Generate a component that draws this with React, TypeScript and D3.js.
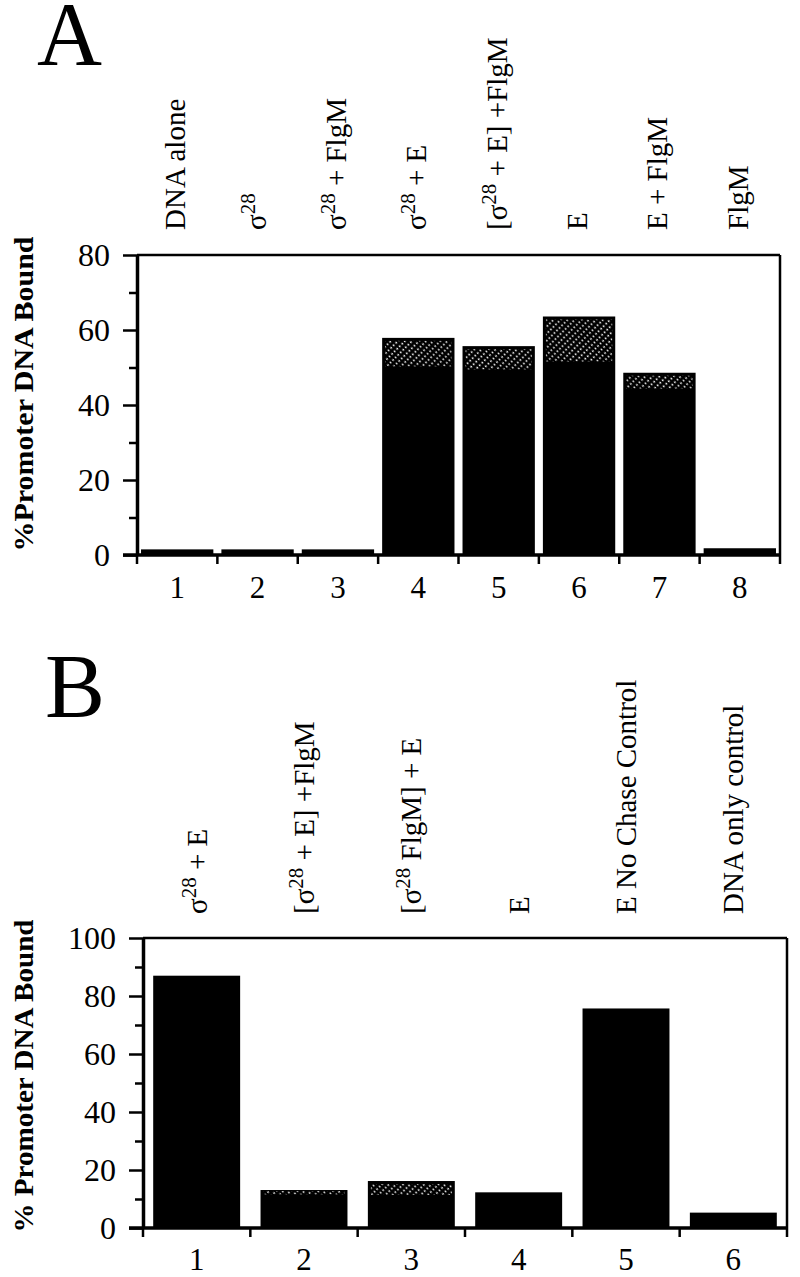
import React, { useRef, useEffect } from 'react';
import * as d3 from 'd3';

// panel A
const catsA = ['1', '2', '3', '4', '5', '6', '7', '8'];
const labelsA = ['DNA alone', 'σ^28', 'σ^28 + FlgM', 'σ^28 + E', '[σ^28 + E] +FlgM', 'E', 'E + FlgM', 'FlgM'];
const solidA = [1.5, 1.5, 1.5, 50.3, 49.5, 51.6, 44.4, 1.8];
const totalA = [1.5, 1.5, 1.5, 57.9, 55.7, 63.6, 48.6, 1.8];
const majorA = [0, 20, 40, 60, 80];
const minorA = [10, 30, 50, 70];

// panel B
const catsB = ['1', '2', '3', '4', '5', '6'];
const labelsB = ['σ^28 + E', '[σ^28 + E] +FlgM', '[σ^28 FlgM] + E', 'E', 'E No Chase Control', 'DNA only control'];
const solidB = [87, 11.6, 11.4, 12.3, 75.7, 5.3];
const totalB = [87, 13.1, 16.2, 12.3, 75.7, 5.3];
const majorB = [0, 20, 40, 60, 80, 100];
const minorB = [10, 30, 50, 70, 90];

const FONT = '"Liberation Serif", "Times New Roman", serif';

const panels = [
  {
    letter: 'A', letterX: 37, letterY: 65,
    cats: catsA, labels: labelsA, solid: solidA, total: totalA, major: majorA, minor: minorA,
    x0: 137, x1: 780, yTop: 255, yZero: 555, max: 80, pad: 0.1,
    labelBottom: 230, labelShift: 8, tickLabelY: 598,
    title: '%Promoter DNA Bound', titleX: 33, titleY: 394, titleLen: 315,
  },
  {
    letter: 'B', letterX: 45, letterY: 717,
    cats: catsB, labels: labelsB, solid: solidB, total: totalB, major: majorB, minor: minorB,
    x0: 143, x1: 787, yTop: 938, yZero: 1228, max: 100, pad: 0.19,
    labelBottom: 914, labelShift: 10, tickLabelY: 1270,
    title: '% Promoter DNA Bound', titleX: 33, titleY: 1076, titleLen: 313,
  },
];

// "σ^28 + E" -> [{t:'σ'},{t:'28',sup:true},{t:' + E'}]
const parseLabel = (s: string) =>
  s.split(/\^(\d+)/).map((t, i) => ({ t, sup: i % 2 === 1 })).filter(d => d.t !== '');

const App = () => {
  const svgRef = useRef<SVGSVGElement>(null);

  useEffect(() => {
    if (!svgRef.current) return;
    const svg = d3.select(svgRef.current);
    svg.selectAll('*').remove();

    const defs = svg.append('defs');
    const pat = defs.append('pattern')
      .attr('id', 'dots')
      .attr('patternUnits', 'userSpaceOnUse')
      .attr('width', 3.6)
      .attr('height', 5)
      .attr('patternTransform', 'rotate(-45)');
    pat.append('rect').attr('width', 3.6).attr('height', 5).attr('fill', '#000');
    pat.append('rect').attr('x', 1).attr('y', 1.7).attr('width', 1.6).attr('height', 1.6).attr('fill', '#fff');

    panels.forEach(p => {
      const g = svg.append('g');

      const x = d3.scaleBand<string>()
        .domain(p.cats)
        .range([p.x0, p.x1])
        .paddingInner(p.pad)
        .paddingOuter(p.pad / 2);

      const y = d3.scaleLinear().domain([0, p.max]).range([p.yZero, p.yTop]);

      // panel letter
      g.append('text')
        .attr('x', p.letterX)
        .attr('y', p.letterY)
        .attr('font-family', FONT)
        .attr('font-size', 90)
        .text(p.letter);

      // bars: solid part then dotted part
      p.cats.forEach((c, i) => {
        g.append('rect')
          .attr('x', x(c)!)
          .attr('width', x.bandwidth())
          .attr('y', y(p.total[i]))
          .attr('height', y(0) - y(p.total[i]))
          .attr('fill', '#000');
        if (p.total[i] > p.solid[i]) {
          const h = y(p.solid[i]) - y(p.total[i]);
          const inset = h < 8 ? 1 : 3;
          g.append('rect')
            .attr('x', x(c)! + 3)
            .attr('width', x.bandwidth() - 6)
            .attr('y', y(p.total[i]) + inset)
            .attr('height', Math.max(0, h - inset))
            .attr('fill', 'url(#dots)');
        }
      });

      // frame top + right
      g.append('line')
        .attr('x1', p.x0).attr('x2', p.x1)
        .attr('y1', y(p.max)).attr('y2', y(p.max))
        .attr('stroke', '#000').attr('stroke-width', 2.5);
      g.append('line')
        .attr('x1', p.x1).attr('x2', p.x1)
        .attr('y1', y(p.max)).attr('y2', y(0))
        .attr('stroke', '#000').attr('stroke-width', 2.5);

      // left axis
      const yAxis = g.append('g')
        .attr('transform', `translate(${p.x0},0)`)
        .call(d3.axisLeft(y).tickValues(p.major).tickSize(14).tickSizeOuter(0).tickPadding(13));
      yAxis.select('.domain').attr('stroke-width', 3.5);
      yAxis.selectAll('.tick line').attr('stroke-width', 2.5);
      yAxis.selectAll('.tick text')
        .attr('font-family', FONT)
        .attr('font-size', 32)
        .attr('fill', '#000');

      g.append('g')
        .attr('transform', `translate(${p.x0},0)`)
        .call(d3.axisLeft(y).tickValues(p.minor).tickSize(8).tickSizeOuter(0).tickFormat(() => ''))
        .call(s => s.select('.domain').remove())
        .selectAll('.tick line').attr('stroke-width', 2.5);

      // bottom axis
      g.append('line')
        .attr('x1', p.x0 - 14).attr('x2', p.x1)
        .attr('y1', y(0)).attr('y2', y(0))
        .attr('stroke', '#000').attr('stroke-width', 3.5);

      const bounds = d3.range(p.cats.length + 1).map(i => p.x0 + i * x.step());
      g.selectAll('.xt')
        .data(bounds)
        .join('line')
        .attr('x1', d => d).attr('x2', d => d)
        .attr('y1', y(0)).attr('y2', y(0) + 9)
        .attr('stroke', '#000').attr('stroke-width', 2.5);

      g.selectAll('.xl')
        .data(p.cats)
        .join('text')
        .attr('x', d => x(d)! + x.bandwidth() / 2)
        .attr('y', p.tickLabelY)
        .attr('text-anchor', 'middle')
        .attr('font-family', FONT)
        .attr('font-size', 31)
        .text(d => d);

      // rotated condition labels
      p.cats.forEach((c, i) => {
        const cx = x(c)! + x.bandwidth() / 2 + p.labelShift;
        const t = g.append('text')
          .attr('transform', `translate(${cx},${p.labelBottom}) rotate(-90)`)
          .attr('font-family', FONT)
          .attr('font-size', 29)
          .attr('text-anchor', 'start');
        parseLabel(p.labels[i]).forEach((seg, j, arr) => {
          const ts = t.append('tspan').text(seg.t);
          if (seg.sup) {
            ts.attr('font-size', 21).attr('dy', -11);
          } else if (j > 0 && arr[j - 1].sup) {
            ts.attr('dy', 11);
          }
        });
      });

      // y title
      g.append('text')
        .attr('transform', `translate(${p.titleX},${p.titleY}) rotate(-90)`)
        .attr('text-anchor', 'middle')
        .attr('font-family', FONT)
        .attr('font-weight', 'bold')
        .attr('font-size', 28)
        .attr('textLength', p.titleLen)
        .attr('lengthAdjust', 'spacingAndGlyphs')
        .text(p.title);
    });
  }, []);

  return (
    <svg
      ref={svgRef}
      width={800}
      height={1277}
      style={{ position: 'absolute', left: 0, top: 0, background: '#fff' }}
    />
  );
};

export default App;
